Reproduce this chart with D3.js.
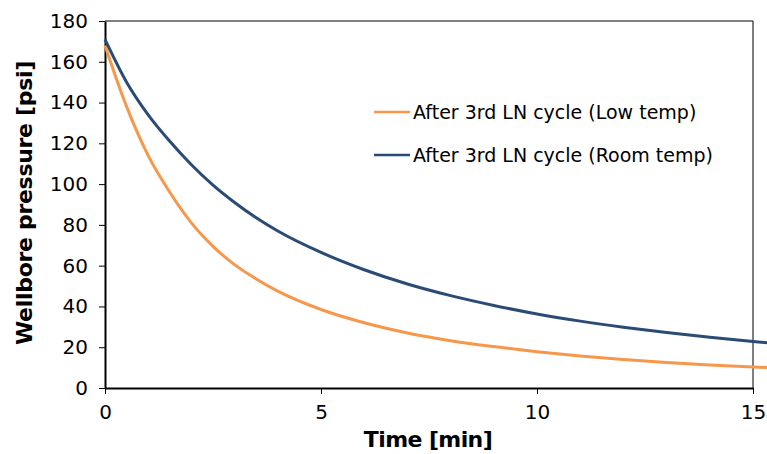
<!DOCTYPE html>
<html>
<head>
<meta charset="utf-8">
<script src="https://cdn.jsdelivr.net/npm/d3@7"></script>
<style>
  body { margin: 0; background: #fff; }
  svg { display: block; font-family: "DejaVu Sans", Verdana, sans-serif; }
</style>
</head>
<body>
<svg id="chart" width="767" height="454"></svg>
<script>
'use strict';

// time in minutes
let timeMin = [0, 0.5, 1, 1.5, 2, 2.5, 3, 3.5, 4, 5, 6, 7, 8, 9, 10, 11, 12, 13, 14, 15, 15.4]
// pressure, low temperature run
let lowTemp = [168, 138, 114, 96, 81, 69.5, 60.5, 53.5, 47.5, 38.5, 32, 27, 23.2, 20.3, 17.8, 15.7, 14, 12.5, 11.3, 10.3, 10]
// pressure, room temperature run
let roomTemp = [171, 150, 134, 121, 109.5, 99.5, 91, 83.5, 77, 66.5, 58, 51, 45.3, 40.5, 36.3, 32.8, 29.8, 27.2, 24.9, 22.8, 22]

let seriesNames = ['After 3rd LN cycle (Low temp)', 'After 3rd LN cycle (Room temp)']
let seriesColors = ['#F7974A', '#2A4B76']
let xTicks = [0, 5, 10, 15]
let yTicks = [0, 20, 40, 60, 80, 100, 120, 140, 160, 180]

let svg = d3.select('#chart')
let margin = {top: 21, left: 105}
let plotW = 648
let plotH = 367

let x = d3.scaleLinear().domain([0, 15]).range([margin.left, margin.left + plotW])
let y = d3.scaleLinear().domain([0, 180]).range([margin.top + plotH, margin.top])

// frame: top and right lines
svg.append('line')
    .attr('x1', x(0)).attr('x2', x(15))
    .attr('y1', y(180)).attr('y2', y(180))
    .attr('stroke', '#000').attr('stroke-width', 1)
svg.append('line')
    .attr('x1', x(15)).attr('x2', x(15))
    .attr('y1', y(180)).attr('y2', y(0))
    .attr('stroke', '#000').attr('stroke-width', 1)

let xAxis = svg.append('g')
    .attr('transform', 'translate(0,' + y(0) + ')')
    .call(d3.axisBottom(x).tickValues(xTicks).tickSize(6).tickPadding(11).tickSizeOuter(0))
let yAxis = svg.append('g')
    .attr('transform', 'translate(' + x(0) + ',0)')
    .call(d3.axisLeft(y).tickValues(yTicks).tickSize(6).tickPadding(11).tickSizeOuter(0))

for (let ax of [xAxis, yAxis]) {
    ax.selectAll('path').attr('stroke', '#000').attr('stroke-width', 2)
    ax.selectAll('line').attr('stroke', '#000').attr('stroke-width', 1)
    ax.selectAll('text')
        .attr('font-family', '"DejaVu Sans", Verdana, sans-serif')
        .attr('font-size', 20).attr('fill', '#000')
}

let line = d3.line()
    .x(function(d) { return x(d[0]); })
    .y(function(d) { return y(d[1]); })
    .curve(d3.curveMonotoneX)

let allSeries = [lowTemp, roomTemp]
allSeries.forEach(function(vals, i) {
    svg.append('path')
        .datum(timeMin.map(function(t, j) { return [t, vals[j]]; }))
        .attr('fill', 'none')
        .attr('stroke', seriesColors[i])
        .attr('stroke-width', 3)
        .attr('d', line)
})

// legend
let legend = svg.append('g')
seriesNames.forEach(function(name, i) {
    let ly = 112 + i * 43
    legend.append('line')
        .attr('x1', 374).attr('x2', 410)
        .attr('y1', ly).attr('y2', ly)
        .attr('stroke', seriesColors[i]).attr('stroke-width', 2.5)
    legend.append('text')
        .attr('x', 413).attr('y', ly)
        .attr('dy', '0.35em')
        .attr('font-size', 19)
        .text(name)
})

svg.append('text')
    .attr('x', 428).attr('y', 447)
    .attr('text-anchor', 'middle')
    .attr('font-size', 22).attr('font-weight', 'bold')
    .attr('letter-spacing', -0.6)
    .text('Time [min]')

svg.append('text')
    .attr('transform', 'translate(32,203) rotate(-90)')
    .attr('text-anchor', 'middle')
    .attr('font-size', 22).attr('font-weight', 'bold')
    .attr('letter-spacing', -0.3)
    .text('Wellbore pressure [psi]')
</script>
</body>
</html>
